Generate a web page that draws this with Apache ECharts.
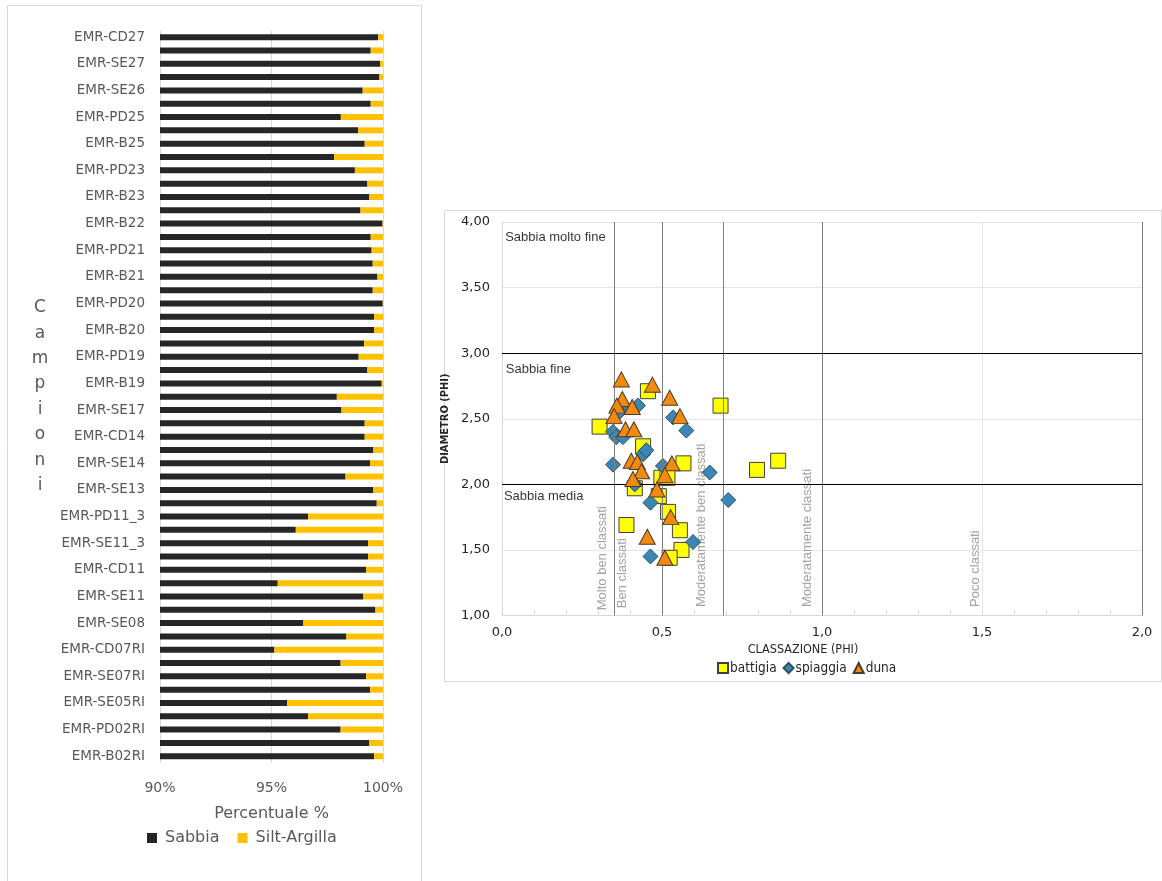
<!DOCTYPE html>
<html><head><meta charset="utf-8">
<script src="https://cdn.jsdelivr.net/npm/echarts@6/dist/echarts.min.js"></script>
<style>html,body{margin:0;padding:0;background:#fff}#c{width:1162px;height:881px}</style>
</head><body><div id="c"></div>
<script>
// ---- Left chart: granulometric composition ----
const categories = ['EMR-CD27','','EMR-SE27','','EMR-SE26','','EMR-PD25','','EMR-B25','','EMR-PD23','','EMR-B23','','EMR-B22','','EMR-PD21','','EMR-B21','','EMR-PD20','','EMR-B20','','EMR-PD19','','EMR-B19','','EMR-SE17','','EMR-CD14','','EMR-SE14','','EMR-SE13','','EMR-PD11_3','','EMR-SE11_3','','EMR-CD11','','EMR-SE11','','EMR-SE08','','EMR-CD07RI','','EMR-SE07RI','','EMR-SE05RI','','EMR-PD02RI','','EMR-B02RI'];
const sabbia = [99.78,99.45,99.87,99.84,99.09,99.45,98.11,98.88,99.18,97.81,98.74,99.30,99.39,98.99,99.98,99.45,99.49,99.54,99.75,99.54,99.99,99.60,99.60,99.15,98.91,99.30,99.94,97.93,98.14,99.18,99.18,99.57,99.42,98.32,99.57,99.72,96.64,96.09,99.33,99.33,99.24,95.28,99.12,99.66,96.43,98.36,95.13,98.10,99.24,99.42,95.70,96.64,98.10,99.39,99.60];
const siltArgilla = [0.22,0.55,0.13,0.16,0.91,0.55,1.89,1.12,0.82,2.19,1.26,0.70,0.61,1.01,0.02,0.55,0.51,0.46,0.25,0.46,0.01,0.40,0.40,0.85,1.09,0.70,0.06,2.07,1.86,0.82,0.82,0.43,0.58,1.68,0.43,0.28,3.36,3.91,0.67,0.67,0.76,4.72,0.88,0.34,3.57,1.64,4.87,1.90,0.76,0.58,4.30,3.36,1.90,0.61,0.40];
const percentTicks = [90, 95, 100];

// ---- Right chart: sorting vs diameter ----
const battigiaX = [0.456,0.683,0.305,0.441,0.567,0.797,0.863,0.498,0.517,0.415,0.490,0.519,0.389,0.556,0.561,0.524];
const battigiaY = [2.71,2.60,2.44,2.29,2.16,2.11,2.18,2.05,2.05,1.97,1.91,1.79,1.69,1.65,1.50,1.44];
const spiaggiaX = [0.425,0.381,0.366,0.535,0.576,0.347,0.357,0.378,0.441,0.451,0.347,0.503,0.649,0.415,0.464,0.707,0.597,0.464];
const spiaggiaY = [2.60,2.60,2.55,2.51,2.41,2.40,2.36,2.36,2.23,2.26,2.15,2.14,2.09,2.00,1.86,1.88,1.56,1.45];
const dunaX = [0.373,0.470,0.524,0.376,0.359,0.407,0.350,0.556,0.386,0.412,0.404,0.423,0.436,0.531,0.509,0.409,0.484,0.527,0.454,0.509];
const dunaY = [2.80,2.76,2.66,2.65,2.60,2.59,2.52,2.52,2.42,2.42,2.18,2.17,2.10,2.16,2.07,2.04,1.96,1.75,1.60,1.44];
const classBounds = [0.35, 0.5, 0.685, 1.0, 2.0];
const zoneBounds = [2, 3];
const classLabels = ['Molto ben classati','Ben classati','Moderatamente ben classati','Moderatamente classati','Poco classati'];
const classLabelX = [0.314, 0.377, 0.623, 0.954, 1.479];
const classLabelY = [1.04, 1.055, 1.065, 1.065, 1.065];
const zoneLabels = ['Sabbia molto fine','Sabbia fine','Sabbia media'];
const zoneLabelX = [0.01, 0.012, 0.006];
const zoneLabelY = [3.886, 2.874, 1.906];

const pair = (xs, ys) => xs.map((x, i) => [x, ys[i]]);
const grey = '#595959';
const dv = "'DejaVu Sans', sans-serif";
const ar = "'Liberation Sans', Arial, sans-serif";
const cond = "'DejaVu Sans Condensed','Liberation Sans Narrow','DejaVu Sans',sans-serif";

const annotData = classLabels.map((t, i) => ({
  value: [classLabelX[i], classLabelY[i]],
  label: {show: true, formatter: t, rotate: 90, position: [0, 0], align: 'left', verticalAlign: 'middle',
          color: '#8c8c8c', fontSize: 13, fontFamily: ar}
})).concat(zoneLabels.map((t, i) => ({
  value: [zoneLabelX[i], zoneLabelY[i]],
  label: {show: true, formatter: t, position: [0, 0], align: 'left', verticalAlign: 'middle',
          color: '#000', fontSize: 13, fontFamily: ar}
})));

const option = {
  animation: false,
  backgroundColor: '#fff',
  graphic: [
    {type: 'rect', z: -10, shape: {x: 7.5, y: 5.5, width: 414, height: 900}, style: {fill: 'none', stroke: '#d9d9d9', lineWidth: 1}},
    {type: 'rect', z: -10, shape: {x: 444.5, y: 210.5, width: 717, height: 471}, style: {fill: 'none', stroke: '#d9d9d9', lineWidth: 1}}
  ],
  legend: [
    {data: ['Sabbia', 'Silt-Argilla'], left: 142, top: 825, itemWidth: 10, itemHeight: 10, icon: 'rect', itemGap: 18,
     textStyle: {fontSize: 16, color: grey, fontFamily: dv, padding: [0, 0, 0, 3]}},
    {data: ['battigia', 'spiaggia', 'duna'], left: 712, top: 656, itemWidth: 10, itemHeight: 10, itemGap: 6,
     textStyle: {fontSize: 13.5, color: '#262626', fontFamily: cond, padding: [0, 0, 0, -3]}}
  ],
  grid: [
    {left: 160, width: 223, top: 30.5, height: 732.4, containLabel: false},
    {left: 502, width: 640, top: 222, height: 393.5, containLabel: false}
  ],
  xAxis: [
    {gridIndex: 0, type: 'value', min: 90, max: 100, interval: 5,
     axisLine: {show: false}, axisTick: {show: false},
     splitLine: {show: true, lineStyle: {color: '#d9d9d9'}},
     axisLabel: {formatter: v => v + '%', color: grey, fontSize: 14, fontFamily: dv, margin: 18},
     name: 'Percentuale %', nameLocation: 'middle', nameGap: 43,
     nameTextStyle: {fontSize: 16, color: grey, fontFamily: dv}},
    {gridIndex: 1, type: 'value', min: 0, max: 2, interval: 0.5,
     axisLine: {show: true, lineStyle: {color: '#d9d9d9'}},
     axisTick: {show: true, inside: true, length: 5, lineStyle: {color: '#d9d9d9'}},
     minorTick: {show: true, splitNumber: 5, length: 5, lineStyle: {color: '#d9d9d9'}},
     splitLine: {show: true, lineStyle: {color: '#e6e6e6'}},
     axisLabel: {formatter: v => v.toFixed(1).replace('.', ','), color: '#262626', fontSize: 13, fontFamily: dv, margin: 11},
     name: 'CLASSAZIONE (PHI)', nameLocation: 'middle', nameGap: 28,
     nameTextStyle: {fontSize: 12.5, color: '#262626', fontFamily: cond, padding: [0, 38, 0, 0]}}
  ],
  yAxis: [
    {gridIndex: 0, type: 'category', data: categories, inverse: true,
     axisLine: {show: false}, axisTick: {show: false},
     axisLabel: {interval: 0, color: grey, fontSize: 13.5, fontFamily: dv, margin: 15},
     name: 'C\na\nm\np\ni\no\nn\ni', nameLocation: 'middle', nameGap: 120, nameRotate: 0,
     nameTextStyle: {fontSize: 17, color: grey, fontFamily: dv, lineHeight: 25.4, align: 'center', verticalAlign: 'middle', padding: [15, 0, 0, 0]}},
    {gridIndex: 1, type: 'value', min: 1, max: 4, interval: 0.5,
     axisLine: {show: true, lineStyle: {color: '#d9d9d9'}}, axisTick: {show: false},
     splitLine: {show: true, lineStyle: {color: '#e6e6e6'}},
     axisLabel: {formatter: v => v.toFixed(2).replace('.', ','), color: '#262626', fontSize: 13, fontFamily: dv, margin: 12},
     name: 'DIAMETRO (PHI)', nameLocation: 'middle', nameGap: 38,
     nameTextStyle: {fontSize: 11, fontWeight: 'bold', color: '#262626', fontFamily: cond}}
  ],
  series: [
    {name: 'Sabbia', type: 'bar', stack: 'tot', xAxisIndex: 0, yAxisIndex: 0, barWidth: 6, clip: true,
     itemStyle: {color: '#262626'}, data: sabbia},
    {name: 'Silt-Argilla', type: 'bar', stack: 'tot', xAxisIndex: 0, yAxisIndex: 0, barWidth: 6, clip: true,
     itemStyle: {color: '#ffc000'}, data: siltArgilla},
    {name: 'annot', type: 'scatter', xAxisIndex: 1, yAxisIndex: 1, symbolSize: 0, silent: true, z: 1,
     data: annotData,
     markLine: {silent: true, symbol: 'none', label: {show: false}, animation: false,
       data: classBounds.map(b => ({xAxis: b, lineStyle: {color: '#7f7f7f', width: 1, type: 'solid'}}))
         .concat(zoneBounds.map(b => ({yAxis: b, lineStyle: {color: '#000', width: 1, type: 'solid'}})))}},
    {name: 'battigia', type: 'scatter', xAxisIndex: 1, yAxisIndex: 1, symbol: 'rect', symbolSize: 15, z: 3,
     itemStyle: {color: '#ffff00', borderColor: '#3f3f3f', borderWidth: 1, opacity: 1}, data: pair(battigiaX, battigiaY)},
    {name: 'spiaggia', type: 'scatter', xAxisIndex: 1, yAxisIndex: 1, symbol: 'diamond', symbolSize: 15, z: 4,
     itemStyle: {color: '#3a86b4', borderColor: '#2f4f63', borderWidth: 1, opacity: 1}, data: pair(spiaggiaX, spiaggiaY)},
    {name: 'duna', type: 'scatter', xAxisIndex: 1, yAxisIndex: 1, symbol: 'triangle', symbolSize: [16, 15], z: 5,
     itemStyle: {color: '#f28a10', borderColor: '#4a3a2a', borderWidth: 1, opacity: 1}, data: pair(dunaX, dunaY)}
  ]
};
const chart = echarts.init(document.getElementById('c'), null, {renderer: 'canvas'});
chart.setOption(option);
</script></body></html>
